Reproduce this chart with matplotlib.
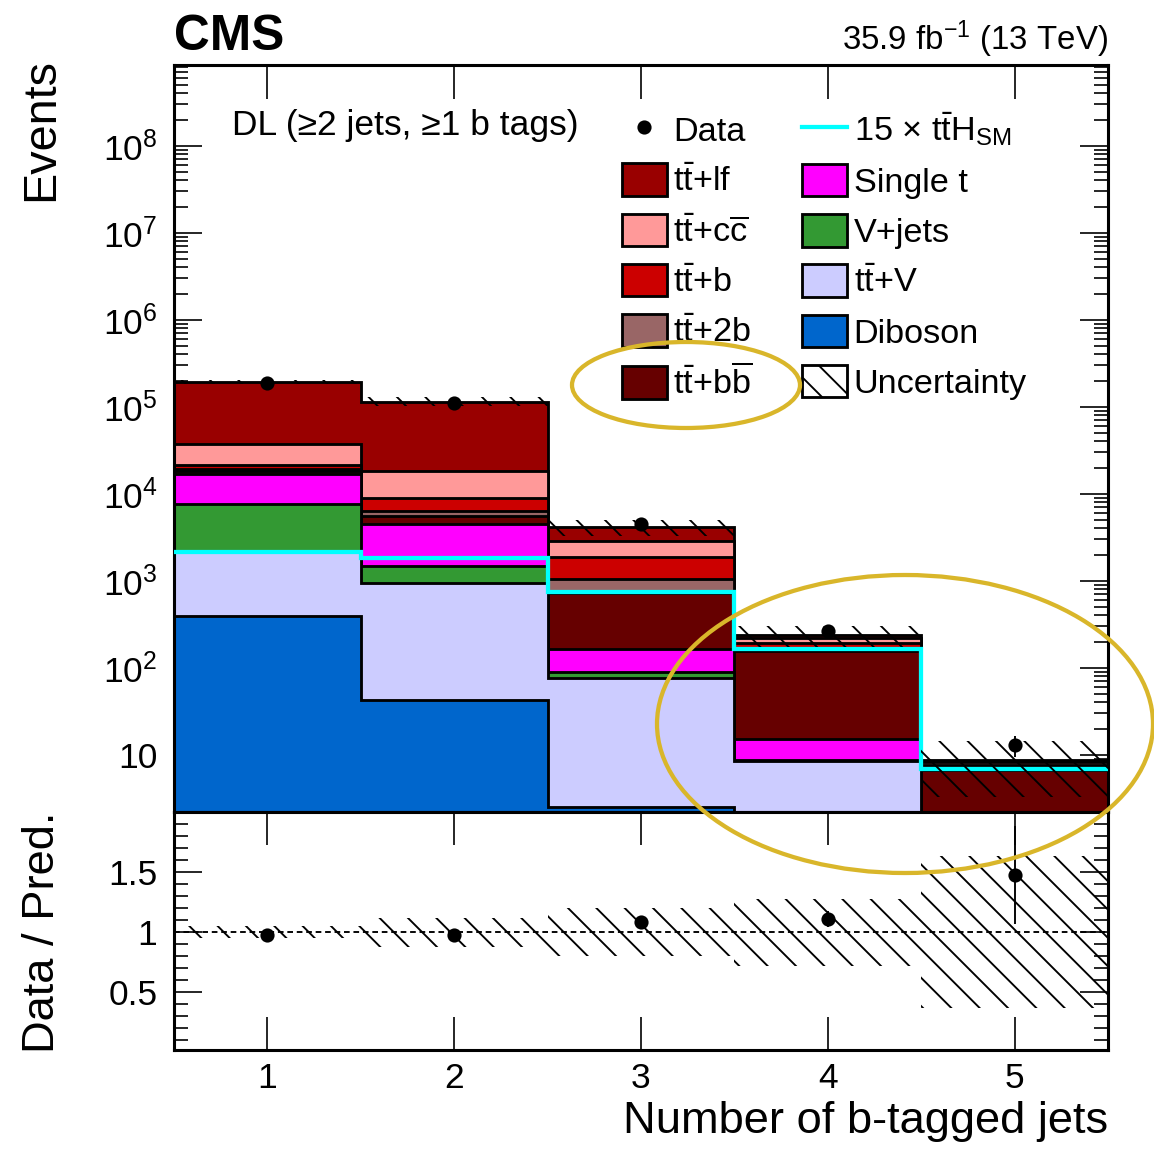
import numpy as np
import matplotlib
matplotlib.use("Agg")
import matplotlib.pyplot as plt
from matplotlib.patches import Patch, Ellipse
from matplotlib.lines import Line2D
from matplotlib.ticker import FixedLocator, FixedFormatter, LogLocator, MultipleLocator, NullFormatter

plt.rcParams['font.family'] = ['Liberation Sans', 'DejaVu Sans']
plt.rcParams['mathtext.fontset'] = 'custom'
plt.rcParams['mathtext.rm'] = 'Liberation Sans'
plt.rcParams['mathtext.it'] = 'Liberation Sans:italic'
plt.rcParams['mathtext.bf'] = 'Liberation Sans:bold'
plt.rcParams['hatch.linewidth'] = 0.8

# data
nbtags = [1, 2, 3, 4, 5]
edges = [0.5, 1.5, 2.5, 3.5, 4.5, 5.5]

diboson = [390, 43, 2.5, 0.5, 0.05]
ttv = [1790, 903, 74.5, 8.0, 0.6]
vjets = [5400, 524, 13, 0.2, 0.1]
single_t = [9200, 3030, 73, 6.6, 0.4]
ttbb = [1500, 1000, 558, 141, 5.45]
tt2b = [900, 780, 319, 14, 0.5]
ttb = [2400, 2650, 830, 24, 0.6]
ttcc = [15400, 9470, 980, 24, 0.6]
ttlf = [158000, 96600, 1270, 20, 0.5]

tth_x15 = [2150, 1830, 740, 163, 6.85]
data = [190000, 112000, 4460, 264, 13]
unc = [0.05, 0.12, 0.2, 0.28, 0.63]

tt = r'$\mathrm{t\bar{t}}$'
procs = [
    (diboson, '#0066CC', 'Diboson'),
    (ttv, '#CCCCFF', tt + '+V'),
    (vjets, '#339933', 'V+jets'),
    (single_t, '#FF00FF', 'Single t'),
    (ttbb, '#660000', tt + r'+$\mathrm{b\overline{b}}$'),
    (tt2b, '#996666', tt + '+2b'),
    (ttb, '#CC0000', tt + '+b'),
    (ttcc, '#FF9999', tt + r'+$\mathrm{c\overline{c}}$'),
    (ttlf, '#990000', tt + '+lf'),
]

dpi = 170
fig = plt.figure(figsize=(1154 / dpi, 1151 / dpi), dpi=dpi)
L, R = 174 / 1154, 1108 / 1154
ax = fig.add_axes([L, 1 - 812 / 1151, R - L, (812 - 65) / 1151])
axr = fig.add_axes([L, 1 - 1050 / 1151, R - L, (1050 - 812) / 1151], sharex=ax)

# stacked histogram, drawn from the top layer down
cum = np.cumsum([np.array(p[0], float) for p in procs], axis=0)
for i in range(len(procs) - 1, -1, -1):
    ax.stairs(cum[i], edges, baseline=1e-3, fill=True, facecolor=procs[i][1],
              edgecolor='black', linewidth=1.2, zorder=2 + (len(procs) - i) * 0.01)
total = cum[-1]

ax.stairs(tth_x15, edges, baseline=None, color='#00FFFF', linewidth=1.8, zorder=3)

unc = np.array(unc)
ax.stairs(total * (1 + unc), edges, baseline=total * (1 - unc), fill=True,
          facecolor='none', edgecolor='black', hatch='\\\\', linewidth=0, zorder=3.5)

data = np.array(data, float)
ax.errorbar(nbtags, data, yerr=np.sqrt(data), fmt='o', color='black', ms=5,
            elinewidth=0.8, capsize=0, zorder=4)

ax.set_yscale('log')
ax.set_ylim(2.2, 8.5e8)
ax.set_xlim(0.5, 5.5)
ax.yaxis.set_major_locator(FixedLocator([10 ** k for k in range(1, 9)]))
ax.yaxis.set_major_formatter(FixedFormatter(['10'] + [r'$10^{%d}$' % k for k in range(2, 9)]))
ax.yaxis.set_minor_locator(LogLocator(base=10, subs=np.arange(2, 10), numticks=20))
ax.yaxis.set_minor_formatter(NullFormatter())
ax.xaxis.set_major_locator(FixedLocator(nbtags))
ax.tick_params(axis='x', which='major', direction='in', top=True, bottom=True,
               length=14.5, width=0.7, labelbottom=False)
ax.tick_params(axis='y', which='major', direction='in', left=True, right=True,
               length=12, width=0.7, labelsize=15, pad=7)
ax.tick_params(axis='y', which='minor', direction='in', left=True, right=True,
               length=6, width=0.7)
ax.set_ylabel('Events', fontsize=19.8, loc='top')
ax.yaxis.set_label_coords(-0.119, 1.01)

# ratio panel
axr.stairs(1 + unc, edges, baseline=1 - unc, fill=True, facecolor='none',
           edgecolor='black', hatch='\\\\', linewidth=0, zorder=2)
axr.axhline(1, color='black', linestyle=(0, (3, 2)), linewidth=0.8, zorder=2.5)
axr.errorbar(nbtags, data / total, yerr=np.sqrt(data) / total, fmt='o', color='black',
             ms=5, elinewidth=0.8, capsize=0, zorder=3)
axr.set_ylim(0.02, 2.0)
axr.yaxis.set_major_locator(FixedLocator([0.5, 1, 1.5]))
axr.yaxis.set_major_formatter(FixedFormatter(['0.5', '1', '1.5']))
axr.yaxis.set_minor_locator(MultipleLocator(0.1))
axr.xaxis.set_major_locator(FixedLocator(nbtags))
axr.xaxis.set_major_formatter(FixedFormatter(['1', '2', '3', '4', '5']))
axr.tick_params(axis='x', which='major', direction='in', top=True, bottom=True,
                length=14, width=0.7, labelsize=15, pad=5)
axr.tick_params(axis='y', which='major', direction='in', left=True, right=True,
                length=12, width=0.7, labelsize=15, pad=7)
axr.tick_params(axis='y', which='minor', direction='in', left=True, right=True,
                length=6, width=0.7)
axr.set_ylabel('Data / Pred.', fontsize=19.2, loc='top')
axr.yaxis.set_label_coords(-0.119, 1.0)
axr.set_xlabel('Number of b-tagged jets', fontsize=19.2, loc='right')
axr.xaxis.set_label_coords(1.0, -0.215)

for a in (ax, axr):
    for s in a.spines.values():
        s.set_linewidth(1.3)

# legend
handles = [Line2D([], [], marker='o', ls='none', color='black', ms=5)]
for i in [8, 7, 6, 5, 4]:
    handles.append(Patch(facecolor=procs[i][1], edgecolor='black', linewidth=1.2))
handles.append(Line2D([], [], color='#00FFFF', linewidth=1.8))
for i in [3, 2, 1, 0]:
    handles.append(Patch(facecolor=procs[i][1], edgecolor='black', linewidth=1.2))
handles.append(Patch(facecolor='white', edgecolor='black', hatch='\\\\', linewidth=1.2))
labels = ['Data'] + [procs[i][2] for i in [8, 7, 6, 5, 4]] + \
         [r'15 × $\mathrm{t\bar{t}H_{SM}}$'] + [procs[i][2] for i in [3, 2, 1, 0]] + ['Uncertainty']
ax.legend(handles, labels, ncol=2, loc='upper left', bbox_to_anchor=(0.4797, 0.939),
          frameon=False, fontsize=14.5, borderpad=0, borderaxespad=0,
          handlelength=1.3, handleheight=1.08, handletextpad=0.2,
          labelspacing=0.45, columnspacing=1.45)

ax.text(0.062, 0.906, 'DL (≥2 jets, ≥1 b tags)', transform=ax.transAxes, fontsize=15,
        ha='left', va='baseline')
fig.text(L, 1 - 50 / 1151, 'CMS', fontsize=21, fontweight='bold', ha='left', va='baseline')
fig.text(R, 1 - 50 / 1151, r'35.9 fb$^{-1}$ (13 TeV)', fontsize=14, ha='right', va='baseline')

# highlight rings
ring = '#D9B62A'
fig.add_artist(Ellipse((686 / 1154, 1 - 385 / 1151), 228 / 1154, 86 / 1151,
                       transform=fig.transFigure, fill=False, edgecolor=ring, linewidth=1.8, zorder=10))
fig.add_artist(Ellipse((905 / 1154, 1 - 724 / 1151), 496 / 1154, 298 / 1151,
                       transform=fig.transFigure, fill=False, edgecolor=ring, linewidth=1.8, zorder=10))

fig.savefig('out.png', dpi=dpi)
